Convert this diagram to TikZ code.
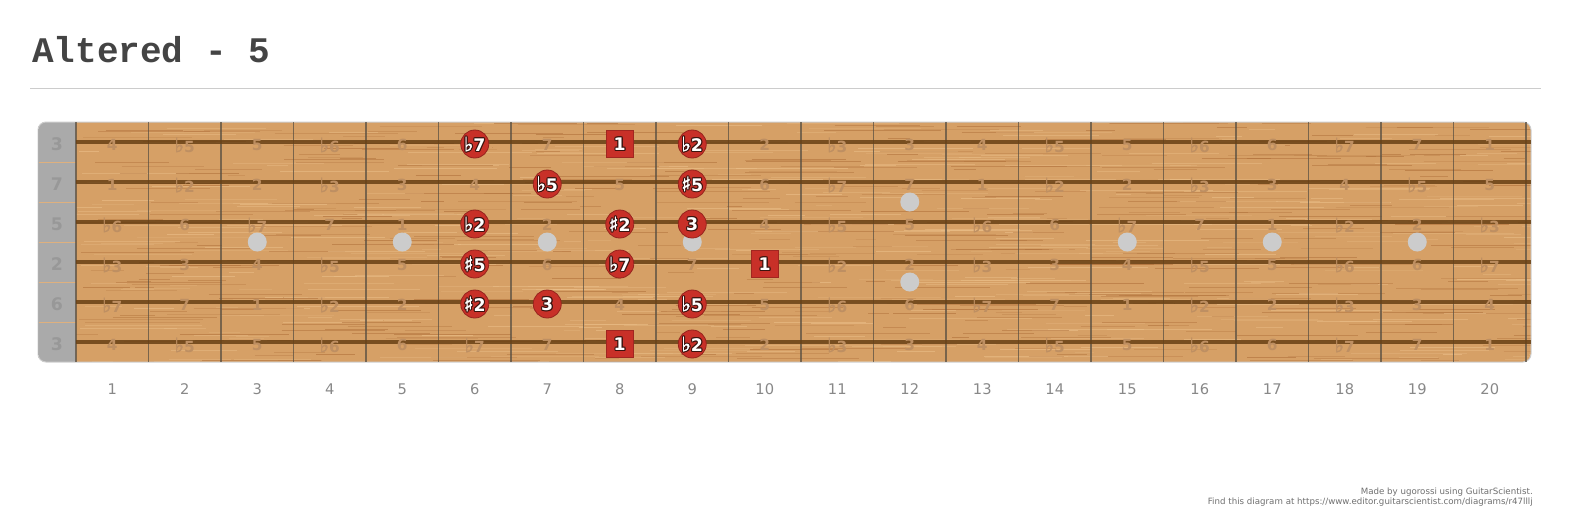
\documentclass[tikz,border=0pt]{standalone}
\usepackage{fontspec}
\setmainfont{DejaVu Sans}
\newfontfamily\titlefont{Liberation Mono}
\newfontfamily\signfont[FakeBold=1.6]{DejaVu Sans Bold}
\usetikzlibrary{positioning}
\definecolor{titlegray}{RGB}{68, 68, 68}
\definecolor{rulegray}{RGB}{204, 204, 204}
\definecolor{woodbase}{RGB}{214, 160, 102}
\definecolor{woodlight}{RGB}{236, 192, 138}
\definecolor{wooddark}{RGB}{176, 112, 58}
\definecolor{stringbrown}{RGB}{104, 64, 20}
\definecolor{fretgray}{RGB}{90, 80, 66}
\definecolor{nutgray}{RGB}{170, 170, 170}
\definecolor{nutlabel}{RGB}{152, 152, 152}
\definecolor{nutline}{RGB}{222, 176, 126}
\definecolor{faintlabel}{RGB}{190, 143, 98}
\definecolor{notered}{RGB}{200, 48, 40}
\definecolor{noteoutline}{RGB}{60, 20, 15}
\definecolor{inlaygray}{RGB}{204, 204, 204}
\definecolor{numbergray}{RGB}{136, 136, 136}
\definecolor{creditgray}{RGB}{110, 110, 110}

% flat and sharp signs as tall as the digits
\newcommand\fl{{\signfont\fontsize{15}{13}\selectfont ♭}}
\newcommand\sh{{\signfont\fontsize{15}{13}\selectfont ♯}}
\newcommand\ivname[1]{\ifcase#1 1\or \fl2\or 2\or \fl3\or 3\or 4\or \fl5\or 5\or \fl6\or 6\or \fl7\or 7\fi}
% white label with a thin dark rim
\newcommand\rimcopy[3]{\rlap{\kern#1\raisebox{#2}{\textcolor{noteoutline}{#3}}}}
\newcommand\rimmed[1]{\leavevmode
  \rimcopy{-0.8pt}{0pt}{#1}\rimcopy{0.8pt}{0pt}{#1}%
  \rimcopy{0pt}{0.8pt}{#1}\rimcopy{0pt}{-0.8pt}{#1}%
  \rimcopy{-0.6pt}{0.6pt}{#1}\rimcopy{0.6pt}{0.6pt}{#1}%
  \rimcopy{-0.6pt}{-0.6pt}{#1}\rimcopy{0.6pt}{-0.6pt}{#1}%
  \textcolor{white}{#1}}

\begin{document}
\begin{tikzpicture}[
    x=0.75pt, y=-0.75pt,
    title/.style={
      anchor=base west,
      inner sep=0pt,
      text=titlegray,
      font=\titlefont\bfseries\fontsize{27}{27}\selectfont
    },
    nutnum/.style={
      inner sep=0pt,
      text=nutlabel,
      font=\bfseries\fontsize{13}{13}\selectfont
    },
    faint/.style={
      inner sep=0pt,
      text=faintlabel,
      font=\bfseries\fontsize{11.5}{11.5}\selectfont
    },
    notedot/.style={
      circle,
      fill=notered,
      draw=notered!75!black,
      line width=0.6pt,
      minimum size=21pt,
      inner sep=0pt,
      font=\bfseries\fontsize{13}{13}\selectfont
    },
    rootbox/.style={
      rectangle,
      fill=notered,
      draw=notered!80!black,
      line width=0.6pt,
      minimum size=20pt,
      inner sep=0pt,
      font=\bfseries\fontsize{13}{13}\selectfont
    },
    fretnum/.style={
      inner sep=0pt,
      text=numbergray,
      font=\fontsize{11}{11}\selectfont
    },
    credit/.style={
      anchor=east,
      inner sep=0pt,
      align=right,
      text=creditgray,
      font=\fontsize{6.5}{7.5}\selectfont
    }
  ]
    \useasboundingbox (0,0) rectangle (1573,519);

    \node[title] (title) at (32,62) {Altered - 5};
    \draw[rulegray, line width=0.75pt] (30,88) -- (1541,88);

    % fretboard wood and nut
    \begin{scope}
      \clip[rounded corners=6] (38,122) rectangle (1531,362);
      \fill[woodbase] (38,122) rectangle (1531,362);
      \pgfmathsetseed{42}
      \foreach \i in {1,...,900}{
        \pgfmathsetmacro\xa{70+1460*rnd}
        \pgfmathsetmacro\ya{122+240*rnd}
        \pgfmathsetmacro\len{15+110*rnd}
        \pgfmathsetmacro\op{0.2+0.4*rnd}
        \ifodd\i \def\col{wooddark}\else \def\col{woodlight}\fi
        \draw[\col, opacity=\op, line width=0.5pt] (\xa,\ya) -- ++(\len,0);
      }
      \fill[nutgray] (38,122) rectangle (76,362);
      \draw[nutgray!70!black, line width=2pt] (38,122) -- (38,362);
      \foreach \y in {162,202,...,322}
        \draw[nutline, line width=0.6pt] (39,\y) -- (76,\y);
    \end{scope}
    \draw[rulegray, line width=0.75pt, rounded corners=6] (38,122) rectangle (1531,362);

    % inlays
    \foreach \f in {3,5,7,9,15,17,19}
      \fill[inlaygray] (39.75+72.5*\f,242) circle (9.5);
    \fill[inlaygray] (39.75+72.5*12,202) circle (9.5);
    \fill[inlaygray] (39.75+72.5*12,282) circle (9.5);

    % frets and strings
    \foreach \k in {0,...,20}
      \draw[fretgray, opacity=0.75, line width=1.3pt] (76+72.5*\k,122) -- (76+72.5*\k,362);
    \foreach \y in {142,182,...,342}
      \draw[stringbrown, opacity=0.85, line width=2.6pt] (76,\y) -- (1531,\y);

    % string/fret spots taken by a scale note
    \foreach \s/\f in {1/6, 1/8, 1/9, 2/7, 2/9, 3/6, 3/8, 3/9,
                       4/6, 4/8, 4/10, 5/6, 5/7, 5/9, 6/8, 6/9}{
      \expandafter\gdef\csname taken-\s-\f\endcsname{}
    }

    % open strings and every other fret
    \foreach \lbl/\open [count=\s] in {3/4, 7/11, 5/7, 2/2, 6/9, 3/4}{
      \node[nutnum] (open\s) at (57,142+40*\s-40+2) {\lbl};
      \foreach \f in {1,...,20}{
        \ifcsname taken-\s-\f\endcsname\else
          \pgfmathtruncatemacro\iv{mod(\open+\f,12)}
          \node[faint] (iv-\s-\f) at (39.75+72.5*\f,142+40*\s-40+3) {\ivname{\iv}};
        \fi
      }
    }

    % scale notes
    \foreach \kind/\f/\s/\lbl in {
        notedot/6/1/\fl7, rootbox/8/1/1, notedot/9/1/\fl2,
        notedot/7/2/\fl5, notedot/9/2/\sh5,
        notedot/6/3/\fl2, notedot/8/3/\sh2, notedot/9/3/3,
        notedot/6/4/\sh5, notedot/8/4/\fl7, rootbox/10/4/1,
        notedot/6/5/\sh2, notedot/7/5/3, notedot/9/5/\fl5,
        rootbox/8/6/1, notedot/9/6/\fl2}
      \node[\kind] (note-\s-\f) at (39.75+72.5*\f,142+40*\s-40+2) {\rimmed{\lbl}};

    % fret numbers
    \foreach \f in {1,...,20}
      \node[fretnum] (num\f) at (39.75+72.5*\f,389) {\f};

    \node[credit] (credit) at (1533,497) {Made by ugorossi using GuitarScientist.\\Find this diagram at https://www.editor.guitarscientist.com/diagrams/r47lllj};
\end{tikzpicture}
\end{document}
